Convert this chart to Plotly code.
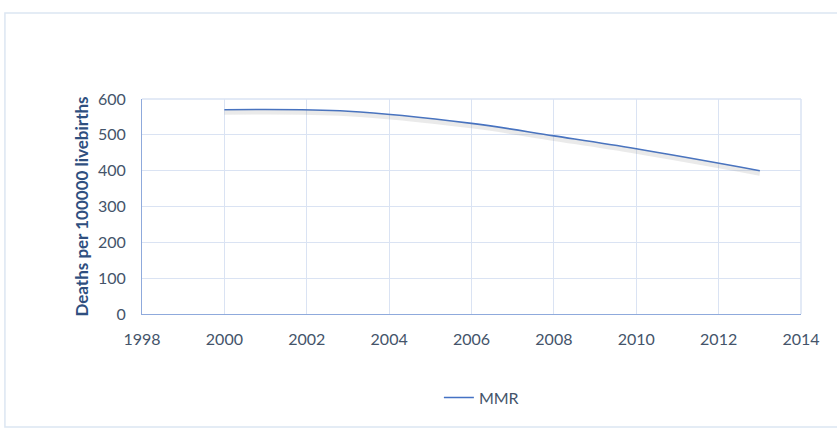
import plotly.graph_objects as go

years = [2000, 2003, 2006, 2008, 2010, 2013]
mmr = [570, 566, 532, 497, 461, 400]

x_ticks = [1998, 2000, 2002, 2004, 2006, 2008, 2010, 2012, 2014]
y_ticks = [0, 100, 200, 300, 400, 500, 600]

text_col = "#44546A"
grid_col = "#DAE3F3"
axis_col = "#8FAADC"
line_col = "#4472C4"
font_fam = "Lato, 'Open Sans', sans-serif"

fig = go.Figure()
# soft shadow under the line (same data, drawn on a slightly offset axis)
fig.add_trace(go.Scatter(x=years, y=mmr, mode="lines", yaxis="y2",
                         line=dict(color="rgba(140,140,140,0.18)", width=5, shape="spline", smoothing=1.0),
                         showlegend=False, hoverinfo="skip"))
fig.add_trace(go.Scatter(x=years, y=mmr, mode="lines", name="MMR",
                         line=dict(color=line_col, width=1.6, shape="spline", smoothing=1.0)))

fig.update_layout(
    width=837, height=432,
    margin=dict(l=142, r=36, t=99, b=118),
    paper_bgcolor="white", plot_bgcolor="white",
    font=dict(family=font_fam, size=16, color=text_col),
    xaxis=dict(range=[1998, 2014], tickvals=x_ticks, showgrid=True, gridcolor=grid_col, gridwidth=1,
               showline=True, linecolor=axis_col, linewidth=1, mirror=False,
               ticks="outside", ticklen=11, tickcolor="rgba(0,0,0,0)", zeroline=False,
               tickfont=dict(size=16, color=text_col)),
    yaxis=dict(range=[0, 600], tickvals=y_ticks, showgrid=True, gridcolor=grid_col, gridwidth=1,
               showline=True, linecolor=axis_col, linewidth=1,
               ticks="outside", ticklen=12, tickcolor="rgba(0,0,0,0)", zeroline=False,
               tickfont=dict(size=16, color=text_col),
               title=dict(text="<b>Deaths per 100000 livebirths</b>", font=dict(size=17, color="#2F4F7F"), standoff=5)),
    yaxis2=dict(range=[7, 607], overlaying="y", visible=False),
    legend=dict(orientation="h", x=0.515, y=-0.31, xanchor="center", yanchor="top",
                font=dict(size=16, color=text_col), bgcolor="rgba(0,0,0,0)"),
    shapes=[
        dict(type="rect", xref="paper", yref="paper", x0=-0.208, x1=1.08, y0=-0.526, y1=1.40,
             line=dict(color="#DCE6F2", width=1.5), fillcolor="rgba(0,0,0,0)", layer="below"),
        dict(type="line", xref="paper", yref="paper", x0=0, x1=1, y0=1, y1=1,
             line=dict(color=grid_col, width=1.5)),
        dict(type="line", xref="paper", yref="paper", x0=1, x1=1, y0=0, y1=1,
             line=dict(color=grid_col, width=1.5)),
    ],
)

fig.write_html("out.html")
